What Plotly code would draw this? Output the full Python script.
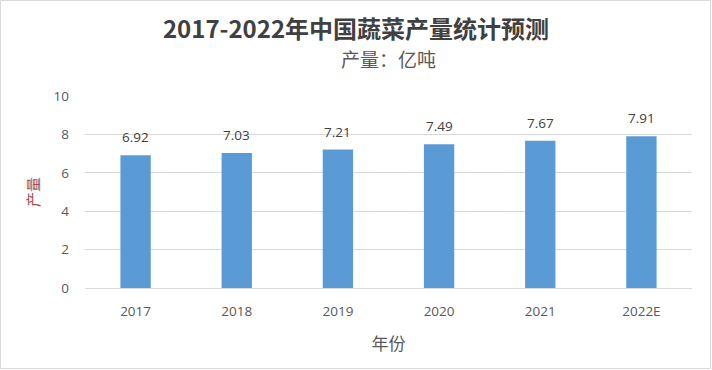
import plotly.graph_objects as go

categories = ["2017", "2018", "2019", "2020", "2021", "2022E"]
values = [6.92, 7.03, 7.21, 7.49, 7.67, 7.91]
labels = ["6.92", "7.03", "7.21", "7.49", "7.67", "7.91"]

FONT = "Open Sans, Noto Sans CJK SC, sans-serif"
CJK = "Noto Sans CJK SC, sans-serif"

W, H = 712, 370
L, R, T, B = 85, 20, 96, 82
PW, PH = W - L - R, H - T - B

fig = go.Figure(go.Bar(
    x=categories, y=values,
    marker=dict(color="#5B9BD5", line=dict(width=0)),
    hoverinfo="x+y",
))

# category axis: annotations positioned by category index
for i, (v, t) in enumerate(zip(values, labels)):
    fig.add_annotation(x=i, y=v, text=t, showarrow=False, yanchor="bottom",
                       yshift=7, font=dict(size=13.5, color="#404040", family=FONT))

fig.update_layout(
    width=W, height=H,
    margin=dict(l=L, r=R, t=T, b=B),
    paper_bgcolor="white", plot_bgcolor="white",
    bargap=0.7,
    showlegend=False,
    font=dict(family=FONT, color="#595959"),
    title=dict(text="<b>2017-2022年中国蔬菜产量统计预测</b>", x=0.5, xanchor="center",
               y=1 - 30 / H, yanchor="middle",
               font=dict(family=CJK, size=24, color="#404040")),
    xaxis=dict(type="category", categoryorder="array", categoryarray=categories,
               tickfont=dict(size=13.5, color="#595959", family=FONT),
               showline=True, linecolor="#D9D9D9", linewidth=1,
               ticks="", showgrid=False, ticklabelstandoff=11,
               title=dict(text="年份", font=dict(family=CJK, size=17, color="#595959"), standoff=18)),
    yaxis=dict(range=[0, 10], dtick=2, tickfont=dict(size=13.5, color="#595959", family=FONT),
               showgrid=True, gridcolor="#D9D9D9", gridwidth=1, zeroline=False,
               ticks="", ticklabelstandoff=15,
               title=dict(text="产量", font=dict(family=CJK, size=15, color="#A5504A"), standoff=10)),
)

fig.add_annotation(text="产量：亿吨", xref="paper", yref="paper", x=0.5, y=1,
                   yshift=T - 58, xanchor="center", yanchor="middle", showarrow=False,
                   font=dict(family=CJK, size=19, color="#595959"))

fig.add_shape(type="rect", xref="paper", yref="paper",
              x0=-(L - 0.5) / PW, x1=1 + (R - 1.5) / PW,
              y0=-(B - 1.5) / PH, y1=1 + (T - 0.5) / PH,
              line=dict(color="#D9D9D9", width=1))

fig.write_html("out.html", config={"displayModeBar": False},
               post_script="document.body.style.margin='0';")
